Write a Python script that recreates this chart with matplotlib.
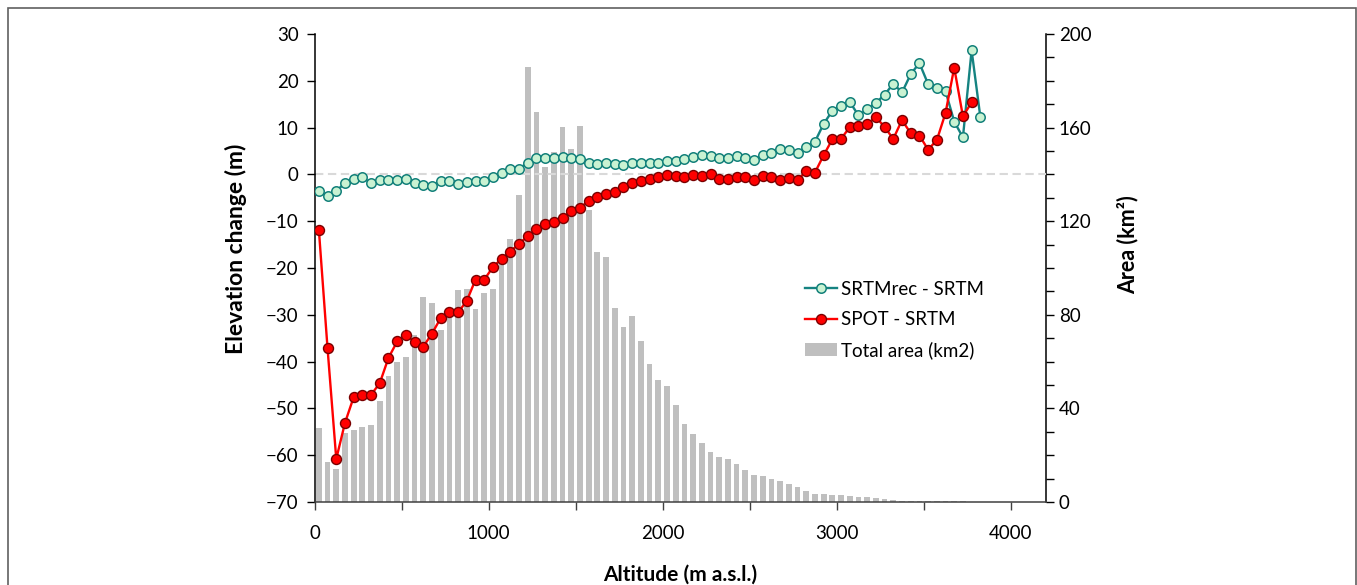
import matplotlib
matplotlib.use("Agg")
import matplotlib.pyplot as plt
from matplotlib.patches import Rectangle
from matplotlib.ticker import FixedLocator, FuncFormatter

# ---------------------------------------------------------------
# Data (50 m altitude bins, bin centres)
# ---------------------------------------------------------------
altitude = list(range(25, 3850, 50))   # 25 ... 3825 m a.s.l.

srtmrec_srtm = [
    -3.6, -4.6, -3.6, -1.8, -0.9, -0.6, -1.9, -1.3, -1.2, -1.2,
    -0.9, -1.9, -2.2, -2.4, -1.4, -1.5, -2.1, -1.6, -1.4, -1.4,
    -0.5, 0.2, 1.1, 1.2, 2.5, 3.5, 3.5, 3.6, 3.8, 3.6,
    3.3, 2.5, 2.2, 2.4, 2.2, 2.1, 2.5, 2.5, 2.5, 2.5,
    2.8, 2.9, 3.2, 3.8, 4.1, 3.9, 3.6, 3.6, 3.9, 3.6,
    3.1, 4.2, 4.5, 5.5, 5.2, 4.6, 5.9, 7.0, 10.8, 13.6,
    14.6, 15.5, 12.6, 13.9, 15.3, 17.0, 19.4, 17.5, 21.4, 23.8,
    19.3, 18.4, 17.8, 11.3, 7.9, 26.5, 12.3,
]

spot_srtm = [
    -11.8, -37.2, -60.8, -53.1, -47.6, -47.2, -47.1, -44.6, -39.2, -35.7,
    -34.3, -35.8, -36.8, -34.0, -30.7, -29.5, -29.5, -27.0, -22.5, -22.5,
    -19.8, -18.0, -16.5, -14.8, -13.2, -11.6, -10.5, -10.1, -9.3, -7.8,
    -7.1, -5.7, -4.9, -4.1, -3.7, -2.6, -1.8, -1.4, -1.0, -0.6,
    -0.1, -0.4, -0.6, -0.2, -0.4, 0.1, -0.9, -0.9, -0.6, -0.5,
    -1.3, -0.3, -0.6, -1.1, -0.8, -1.2, 0.7, 0.4, 4.1, 7.5,
    7.6, 10.1, 10.4, 10.7, 12.3, 10.1, 7.6, 11.6, 8.8, 8.3,
    5.3, 7.3, 13.1, 22.8, 12.4, 15.4,
]

total_area = [
    31.5, 17.2, 14.0, 29.7, 30.9, 32.0, 33.1, 43.0, 53.7, 59.8,
    62.0, 71.2, 87.5, 85.1, 73.7, 81.0, 90.7, 91.1, 82.6, 89.2,
    91.0, 101.8, 112.5, 131.3, 185.8, 166.5, 143.0, 149.4, 160.2, 150.9,
    160.8, 124.7, 106.7, 104.9, 82.9, 74.9, 79.4, 69.0, 58.9, 52.2,
    49.4, 41.5, 33.4, 29.0, 25.1, 21.4, 19.3, 18.3, 16.3, 13.8,
    11.6, 10.9, 9.9, 8.9, 7.6, 6.4, 4.7, 3.6, 3.3, 3.2,
    2.9, 2.5, 2.2, 2.1, 1.5, 1.2, 0.9, 0.6, 0.5, 0.4,
    0.4, 0.3, 0.3, 0.6, 0.4,
]

series_labels = ["SRTMrec - SRTM", "SPOT - SRTM", "Total area (km2)"]

# ---------------------------------------------------------------
# Figure
# ---------------------------------------------------------------
plt.rcParams["font.family"] = ["Lato", "DejaVu Sans"]

W, H = 1357, 585
fig = plt.figure(figsize=(W / 100, H / 100), dpi=100)
ax = fig.add_axes([314.5 / W, 1 - 502 / H, (1045.6 - 314.5) / W, (502 - 34) / H])
ax2 = ax.twinx()

# bars on the right axis, drawn behind the lines
ax2.bar(altitude[:len(total_area)], total_area, width=33, color="#bfbfbf",
        label=series_labels[2], zorder=1)
ax.set_zorder(ax2.get_zorder() + 1)
ax.patch.set_visible(False)

ax.axhline(0, color="#d9d9d9", lw=1.5, dashes=(4, 2.2), zorder=1)

ax.plot(altitude[:len(srtmrec_srtm)], srtmrec_srtm, color="#158381", lw=1.7,
        marker="o", ms=6.8, mfc="#c9f2d2", mec="#12807a", mew=1.1,
        label=series_labels[0], zorder=3)
ax.plot(altitude[:len(spot_srtm)], spot_srtm, color="#ff0000", lw=1.7,
        marker="o", ms=7.2, mfc="#ff0000", mec="#7a0000", mew=1.0,
        label=series_labels[1], zorder=4)

# axes limits / ticks
ax.set_xlim(0, 4200)
ax.set_ylim(-70, 30)
ax2.set_ylim(0, 200)

ax.xaxis.set_major_locator(FixedLocator(range(0, 4201, 500)))
ax.xaxis.set_major_formatter(FuncFormatter(lambda v, p: f"{v:.0f}" if v % 1000 == 0 else ""))
ax.set_yticks(range(-70, 31, 10))
ax2.yaxis.set_major_locator(FixedLocator(range(0, 201, 10)))
ax2.yaxis.set_major_formatter(FuncFormatter(lambda v, p: f"{v:.0f}" if v % 40 == 0 else ""))

ax.tick_params(axis="x", direction="out", length=5.5, width=1, labelsize=13.5, pad=11, color="#404040")
ax.tick_params(axis="y", direction="out", length=5.5, width=1, labelsize=13.5, pad=6)
ax2.tick_params(axis="y", direction="out", length=5.5, width=1, labelsize=13.5, pad=4)

for a in (ax, ax2):
    a.spines["top"].set_visible(False)
ax.spines["right"].set_visible(False)
ax2.spines["left"].set_visible(False)
ax2.spines["bottom"].set_visible(False)
ax.spines["left"].set_linewidth(1.1)
ax2.spines["right"].set_linewidth(1.1)
ax.spines["bottom"].set_linewidth(1.1)
ax.spines["bottom"].set_color("#404040")

ax.set_xlabel("Altitude (m a.s.l.)", fontsize=15, fontweight="bold")
ax.xaxis.set_label_coords(0.5, -0.133)
ax.set_ylabel("Elevation change (m)", fontsize=16.5, fontweight="bold")
ax.yaxis.set_label_coords(-0.092, 0.54)
ax2.set_ylabel("Area (km²)", fontsize=15.5, fontweight="bold")
ax2.yaxis.set_label_coords(1.098, 0.55)

# legend
handles = ax.get_lines()[1:] + [ax2.patches[0]]
leg = fig.legend(handles, series_labels, loc="upper left",
                 bbox_to_anchor=(805 / W, 1 - 281 / H), frameon=False,
                 fontsize=13.5, handlelength=1.7, handletextpad=0.2,
                 labelspacing=0.7, borderpad=0, borderaxespad=0)

# thin frame round the whole figure
fig.add_artist(Rectangle((7.5 / W, -0.05), (1355.5 - 7.5) / W, 1.05 - 8.3 / H,
                         transform=fig.transFigure, fill=False,
                         edgecolor="#606060", lw=1.2))

fig.savefig("out.png", dpi=100)
